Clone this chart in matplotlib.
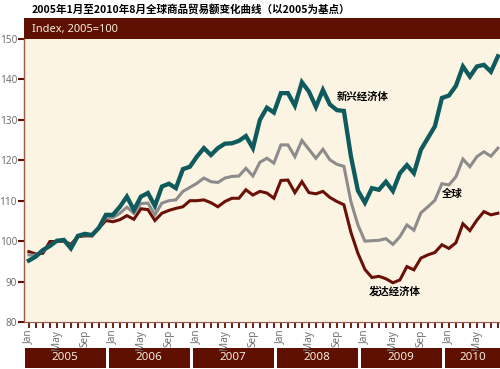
import numpy as np
import matplotlib.pyplot as plt

# monthly index, Jan 2005 .. Aug 2010 (2005 = 100)
emerging = [95.2, 96.2, 97.8, 98.8, 100.1, 100.3, 98.2, 101.3, 101.8, 101.5, 103.3, 106.5,
            106.5, 108.5, 111.0, 107.7, 111.0, 111.9, 108.7, 113.5, 114.2, 113.1, 117.8, 118.4,
            120.9, 123.0, 121.3, 123.0, 124.1, 124.2, 124.8, 126.0, 123.0, 130.0, 133.0, 131.8,
            136.6, 136.6, 133.5, 139.3, 137.0, 133.2, 137.4, 133.8, 132.4, 132.2, 121.0, 112.5,
            109.5, 113.1, 112.7, 114.7, 112.4, 116.8, 118.8, 116.8, 122.6, 125.5, 128.4, 135.4,
            136.0, 138.4, 143.2, 140.7, 143.2, 143.6, 141.9, 145.7]
world = [96.6, 96.5, 97.5, 99.0, 100.0, 100.2, 98.7, 101.2, 101.6, 101.4, 103.3, 105.8,
         105.8, 106.9, 108.4, 106.9, 109.3, 109.4, 106.5, 109.4, 110.0, 110.2, 112.3, 113.3,
         114.3, 115.6, 114.7, 114.5, 115.6, 116.0, 116.1, 118.0, 116.1, 119.5, 120.5, 119.3,
         123.8, 123.8, 120.9, 124.9, 122.7, 120.5, 122.7, 120.1, 119.0, 118.5, 109.8, 104.0,
         100.0, 100.1, 100.2, 100.6, 99.2, 101.1, 104.0, 102.7, 107.0, 108.5, 110.1, 114.2,
         113.9, 115.9, 120.3, 118.4, 120.9, 122.1, 121.0, 123.0]
developed = [97.4, 96.8, 97.0, 99.9, 99.9, 100.0, 99.2, 101.1, 101.3, 101.3, 103.2, 105.1,
             104.8, 105.3, 106.3, 105.4, 108.0, 107.8, 105.1, 106.9, 107.6, 108.1, 108.5, 110.0,
             110.0, 110.2, 109.5, 108.5, 109.8, 110.6, 110.6, 112.7, 111.4, 112.3, 111.9, 110.6,
             115.0, 115.1, 112.0, 114.7, 112.0, 111.7, 112.3, 110.8, 109.8, 109.0, 102.2, 97.0,
             93.0, 91.0, 91.3, 90.7, 89.7, 90.4, 93.7, 92.9, 95.8, 96.6, 97.2, 99.1,
             98.2, 99.6, 104.3, 102.6, 105.2, 107.3, 106.5, 106.9]
years = ["2005", "2006", "2007", "2008", "2009", "2010"]
month_names = ["Jan", "Feb", "Mar", "Apr", "May", "Jun",
               "Jul", "Aug", "Sep", "Oct", "Nov", "Dec"]
shown_months = ["Jan", "May", "Sep"]

title = "2005年1月至2010年8月全球商品贸易额变化曲线（以2005为基点）"
header = "Index, 2005=100"
labels = {"emerging": "新兴经济体", "world": "全球", "developed": "发达经济体"}

DARK = "#5f1000"
CREAM = "#fcf4e2"
GREY_TXT = "#707070"
cjk = ["Noto Sans CJK SC", "DejaVu Sans"]

n = len(emerging)
x = np.arange(n)
xmin, xmax = -0.7, n - 0.7

fig = plt.figure(figsize=(5.0, 3.69), dpi=100)
fig.patch.set_facecolor("white")

# main chart
ax = fig.add_axes([0.048, 0.1274, 0.952, 0.767])
ax.set_zorder(3)
ax.set_facecolor(CREAM)
ax.plot(x, developed, color="#6a1007", lw=2.2, solid_joinstyle="miter", zorder=3)
ax.plot(x, world, color="#8c8c8c", lw=2.2, solid_joinstyle="miter", zorder=4)
ax.plot(x, emerging, color="#0f5a5d", lw=3.1, solid_joinstyle="miter", zorder=5)
ax.set_xlim(xmin, xmax)
ax.set_ylim(80, 150)
ax.set_yticks(range(80, 151, 10))
ax.tick_params(axis="y", length=4, width=1.5, color=DARK, labelsize=7.2,
               labelcolor=GREY_TXT, pad=1)
ax.set_xticks(x)
ax.set_xticklabels([month_names[i % 12] if month_names[i % 12] in shown_months else ""
                    for i in x], rotation=90)
ax.tick_params(axis="x", length=4, width=1.3, color=DARK, labelsize=7.2,
               labelcolor=GREY_TXT, pad=1.5)
for lab in ax.get_xticklabels() + ax.get_yticklabels():
    lab.set_family("Noto Sans")
for s in ["top", "right"]:
    ax.spines[s].set_visible(False)
ax.spines["left"].set_color("#9a5a4a")
ax.spines["bottom"].set_color("#9a5a4a")
ax.spines["left"].set_linewidth(1.0)
ax.spines["bottom"].set_linewidth(0.8)

ax.text(44, 135.7, labels["emerging"], family=cjk, fontsize=7.5, fontweight="bold",
        va="center", ha="left", zorder=6)
ax.text(59, 111.7, labels["world"], family=cjk, fontsize=7.5, fontweight="bold",
        va="center", ha="left", zorder=6)
ax.text(48.5, 87.5, labels["developed"], family=cjk, fontsize=7.5, fontweight="bold",
        va="center", ha="left", zorder=6)

# header band
hax = fig.add_axes([0.048, 0.8943, 0.952, 0.0561])
hax.set_facecolor(DARK)
hax.set_xticks([])
hax.set_yticks([])
for s in hax.spines.values():
    s.set_visible(False)
hax.text(0.016, 0.48, header, transform=hax.transAxes, color="#f6eee0",
         fontsize=8, family="Noto Sans", va="center", ha="left")

# year bars
yax = fig.add_axes([0.048, 0.003, 0.952, 0.055], sharex=ax)
year_centers = [12 * k + 5.2 for k in range(len(years))]
yax.bar(year_centers, [1] * len(years), width=11.6, color=DARK, align="center")
for c, yr in zip(year_centers, years):
    cx = min(c, (12 * years.index(yr) - 0.6 + xmax) / 2)
    yax.text(cx, 0.5, yr, color="#f6eee0", fontsize=8.3, family="Noto Sans",
             ha="center", va="center")
yax.set_ylim(0, 1)
yax.set_facecolor("white")
yax.axis("off")
ax.set_xlim(xmin, xmax)

fig.text(0.064, 0.976, title, family=cjk, fontsize=7.6, fontweight="bold",
         va="center", ha="left")

fig.savefig("out.png", dpi=100)
